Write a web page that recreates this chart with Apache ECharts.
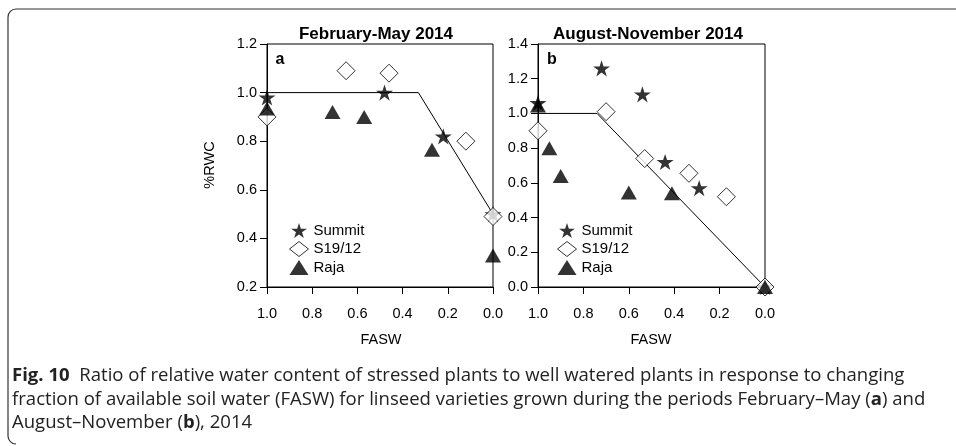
<!DOCTYPE html>
<html>
<head>
<meta charset="utf-8">
<script src="https://cdn.jsdelivr.net/npm/echarts@6/dist/echarts.min.js"></script>
<style>html,body{margin:0;padding:0;background:#fff;}#c{width:956px;height:446px;}</style>
</head>
<body>
<div id="c"></div>
<script>
// ---- Data ----
const xTicks = [1.0, 0.8, 0.6, 0.4, 0.2, 0.0];
const seriesNames = ['Summit', 'S19/12', 'Raja'];

// Panel a: February-May 2014
const faswA_summit = [1.0, 0.48, 0.22, 0.0];
const rwcA_summit  = [0.98, 1.00, 0.82, 0.50];
const faswA_s19    = [1.0, 0.65, 0.46, 0.12, 0.0];
const rwcA_s19     = [0.90, 1.09, 1.08, 0.80, 0.49];
const faswA_raja   = [1.0, 0.71, 0.57, 0.27, 0.0];
const rwcA_raja    = [0.935, 0.92, 0.90, 0.765, 0.33];
const faswA_fit    = [1.0, 0.33, 0.0];
const rwcA_fit     = [1.0, 1.0, 0.5];

// Panel b: August-November 2014
const faswB_summit = [1.0, 0.72, 0.54, 0.44, 0.29, 0.0];
const rwcB_summit  = [1.06, 1.26, 1.11, 0.72, 0.57, 0.0];
const faswB_s19    = [1.0, 0.70, 0.53, 0.335, 0.17, 0.0];
const rwcB_s19     = [0.90, 1.01, 0.74, 0.655, 0.52, 0.0];
const faswB_raja   = [1.0, 0.95, 0.90, 0.60, 0.41, 0.0];
const rwcB_raja    = [1.045, 0.80, 0.64, 0.545, 0.54, 0.0];
const faswB_fit    = [1.0, 0.74, 0.0];
const rwcB_fit     = [1.0, 1.0, 0.0];

const titleA = 'February-May 2014';
const titleB = 'August-November 2014';
const yLabel = '%RWC';
const xLabel = 'FASW';

// ---- Build ----
const pair = (xs, ys) => xs.map((x, i) => [x, ys[i]]);
const STAR = 'path://M100,0 L122.45,69.1 L195.1,69.1 L136.3,111.8 L158.8,180.9 L100,138.2 L41.2,180.9 L63.7,111.8 L4.9,69.1 L77.55,69.1 Z';
const FONT = '"Liberation Sans", Arial, sans-serif';

const markerStyle = {
  'Summit': { symbol: STAR, symbolSize: 17, itemStyle: { color: '#000', borderWidth: 0 } },
  'S19/12': { symbol: 'diamond', symbolSize: [18, 18], itemStyle: { color: '#fff', borderColor: '#000', borderWidth: 1 } },
  'Raja':   { symbol: 'triangle', symbolSize: [16, 14], itemStyle: { color: '#000', borderWidth: 0 } }
};

function scatter(name, idx, xs, ys, z) {
  const m = markerStyle[name];
  return {
    type: 'scatter', name: name, xAxisIndex: idx, yAxisIndex: idx,
    data: pair(xs, ys), symbol: m.symbol, symbolSize: m.symbolSize,
    symbolKeepAspect: true, itemStyle: m.itemStyle, clip: false, z: z,
    emphasis: { disabled: true }
  };
}
function fit(idx, xs, ys) {
  return {
    type: 'line', xAxisIndex: idx, yAxisIndex: idx, data: pair(xs, ys),
    symbol: 'none', lineStyle: { color: '#000', width: 1 }, z: 1, silent: true
  };
}

const axisCommon = {
  axisLine: { show: true, onZero: false, lineStyle: { color: '#000', width: 1 } },
  axisTick: { show: true, inside: false, length: 7, lineStyle: { color: '#000', width: 1 } },
  splitLine: { show: false },
  axisLabel: { color: '#000', fontFamily: FONT, fontSize: 14.5 }
};

function xAxis(idx) {
  return Object.assign({}, axisCommon, {
    type: 'value', gridIndex: idx, min: 0, max: 1, interval: 0.2, inverse: true,
    axisLabel: Object.assign({}, axisCommon.axisLabel, { margin: 19, formatter: v => v.toFixed(1) })
  });
}
function yAxis(idx, max) {
  return Object.assign({}, axisCommon, {
    type: 'value', gridIndex: idx, min: idx === 0 ? 0.2 : 0, max: max, interval: 0.2,
    axisLabel: Object.assign({}, axisCommon.axisLabel, { margin: 10, formatter: v => v.toFixed(1) })
  });
}

function legend(left) {
  return {
    orient: 'vertical', left: left, top: 218, itemWidth: 19, itemHeight: 15, itemGap: 3,
    selectedMode: false,
    textStyle: { color: '#000', fontFamily: FONT, fontSize: 15 },
    data: seriesNames.map(n => ({ name: n, icon: markerStyle[n].symbol,
      itemStyle: markerStyle[n].itemStyle }))
  };
}

const capFont = '17.5px "Open Sans"';
const capBold = 'bold 17.5px "Open Sans"';
function caption(y, text) {
  return { type: 'text', x: 12, y: y, scaleX: 1.06, silent: true, style: {
    text: text, font: capFont, fill: '#222', verticalAlign: 'middle',
    rich: { b: { font: capBold, fill: '#222' } } } };
}
function label(x, y, text, font, extra) {
  return Object.assign({ type: 'text', x: x, y: y, silent: true,
    style: { text: text, font: font, fill: '#000', align: 'center', verticalAlign: 'middle' } }, extra || {});
}

const chart = echarts.init(document.getElementById('c'), null, { renderer: 'canvas' });
chart.setOption({
  animation: false,
  backgroundColor: '#fff',
  grid: [
    { left: 267, top: 44, width: 226, height: 243, show: true, borderColor: '#000', borderWidth: 1, backgroundColor: 'transparent' },
    { left: 538, top: 44, width: 227, height: 243, show: true, borderColor: '#000', borderWidth: 1, backgroundColor: 'transparent' }
  ],
  xAxis: [xAxis(0), xAxis(1)],
  yAxis: [yAxis(0, 1.2), yAxis(1, 1.4)],
  legend: [legend(284), legend(552)],
  series: [
    fit(0, faswA_fit, rwcA_fit),
    scatter('Summit', 0, faswA_summit, rwcA_summit, 2),
    scatter('S19/12', 0, faswA_s19, rwcA_s19, 3),
    scatter('Raja', 0, faswA_raja, rwcA_raja, 4),
    fit(1, faswB_fit, rwcB_fit),
    scatter('Summit', 1, faswB_summit, rwcB_summit, 2),
    scatter('S19/12', 1, faswB_s19, rwcB_s19, 3),
    scatter('Raja', 1, faswB_raja, rwcB_raja, 4)
  ],
  graphic: [
    { type: 'line', silent: true, shape: { x1: 16, y1: 9, x2: 956, y2: 9 }, style: { stroke: '#333', lineWidth: 1.2 } },
    { type: 'line', silent: true, shape: { x1: 8, y1: 17, x2: 8, y2: 436 }, style: { stroke: '#333', lineWidth: 1.2 } },
    { type: 'arc', silent: true, shape: { cx: 16, cy: 17, r: 8, startAngle: Math.PI, endAngle: Math.PI * 1.5 }, style: { stroke: '#333', lineWidth: 1.2, fill: 'none' } },
    { type: 'arc', silent: true, shape: { cx: 16, cy: 436, r: 8, startAngle: Math.PI * 0.5, endAngle: Math.PI }, style: { stroke: '#333', lineWidth: 1.2, fill: 'none' } },
    label(376, 34, titleA, 'bold 17px ' + FONT),
    label(648, 34, titleB, 'bold 17px ' + FONT),
    label(280, 60, 'a', 'bold 16px ' + FONT),
    label(552, 60, 'b', 'bold 16px ' + FONT),
    label(210, 165, yLabel, '14.5px ' + FONT, { rotation: Math.PI / 2 }),
    label(381, 340, xLabel, '14.5px ' + FONT),
    label(651, 340, xLabel, '14.5px ' + FONT),
    caption(376, '{b|Fig. 10}  Ratio of relative water content of stressed plants to well watered plants in response to changing'),
    caption(400, 'fraction of available soil water (FASW) for linseed varieties grown during the periods February\u2013May ({b|a}) and'),
    caption(423, 'August\u2013November ({b|b}), 2014')
  ]
});
</script>
</body>
</html>
